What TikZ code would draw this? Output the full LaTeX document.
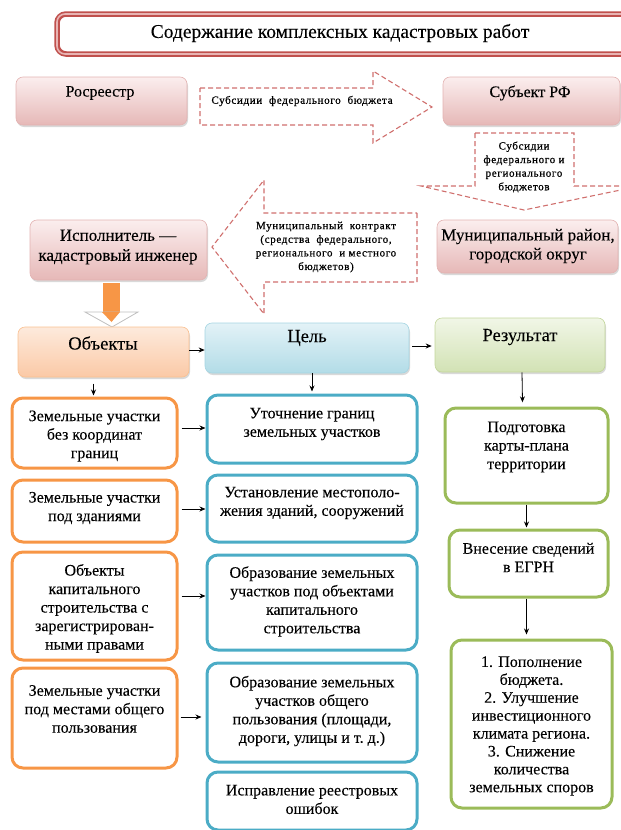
\documentclass[tikz,border=0pt]{standalone}
\usepackage{fontspec}
\setmainfont{Liberation Serif}
\newfontfamily\serif[FakeBold=0.1]{Liberation Serif}
\newfontfamily\smallfont[LetterSpace=6,FakeBold=0.6]{Liberation Serif}
\usetikzlibrary{shadows,calc,arrows.meta}
\definecolor{titlered}{HTML}{C0504D}
\definecolor{titlelight}{HTML}{E8B4B3}
\definecolor{pinktop}{HTML}{FBEEEE}
\definecolor{pinkbot}{HTML}{E6B8B7}
\definecolor{pinkline}{HTML}{E3B3B2}
\definecolor{dashred}{HTML}{D0706E}
\definecolor{orangeline}{HTML}{F79646}
\definecolor{orangetop}{HTML}{FDEADC}
\definecolor{orangebot}{HTML}{FBC9A6}
\definecolor{orangeedge}{HTML}{FAC090}
\definecolor{blueline}{HTML}{4BACC6}
\definecolor{bluetop}{HTML}{E3F2F7}
\definecolor{bluebot}{HTML}{B2DCE7}
\definecolor{blueedge}{HTML}{A5D5E2}
\definecolor{greenline}{HTML}{9BBB59}
\definecolor{greentop}{HTML}{F1F6E7}
\definecolor{greenbot}{HTML}{D2E2B4}
\definecolor{greenedge}{HTML}{C3D69B}
\tikzset{
  myshadow/.style={drop shadow={shadow xshift=1pt,shadow yshift=-2pt,opacity=0.25,fill=black!60}},
  hbox/.style={rounded corners=7pt, line width=0.6pt, myshadow},
  pinkbox/.style={hbox, draw=pinkline, top color=pinktop, bottom color=pinkbot},
  objbox/.style={hbox, draw=orangeedge, top color=orangetop, bottom color=orangebot},
  celbox/.style={hbox, draw=blueedge, top color=bluetop, bottom color=bluebot},
  resbox/.style={hbox, draw=greenedge, top color=greentop, bottom color=greenbot},
  obox/.style={rounded corners=11pt, line width=3pt, draw=orangeline, fill=white},
  bbox/.style={rounded corners=11pt, line width=3pt, draw=blueline, fill=white},
  gbox/.style={rounded corners=11pt, line width=3pt, draw=greenline, fill=white},
  dasharrow/.style={draw=dashred, line width=1.1pt, dash pattern=on 5pt off 3pt, fill=white},
  body/.style={align=center, inner sep=0pt, font=\serif\fontsize{16}{18.5}\selectfont},
  head/.style={align=center, inner sep=0pt, font=\serif\fontsize{18.5}{22}\selectfont},
  small/.style={align=center, inner sep=0pt, font=\smallfont\fontsize{11}{13.6}\selectfont},
  arr/.style={-{Stealth[length=6pt,width=5pt]}, line width=0.8pt},
}
\begin{document}
\begin{tikzpicture}[x=1pt,y=-1pt]
\useasboundingbox (0,0) rectangle (621,830);
\clip (0,0) rectangle (621,830);
% title
\draw[rounded corners=9pt, line width=5.5pt, draw=titlered, fill=white] (57,14) rectangle (632,54);
\draw[rounded corners=8pt, line width=1.6pt, draw=titlelight] (57,14) rectangle (632,54);
\node[head, font=\serif\fontsize{19.5}{22}\selectfont] (title) at (340,33) {Содержание комплексных кадастровых работ};
% dashed arrows
\draw[dasharrow] (200,88) -- (373,88) -- (373,71) -- (432,107) -- (373,143) -- (373,125) -- (200,125) -- cycle;
\node[small] (t1) at (302,101) {Субсидии \ федерального \ бюджета};
\draw[dasharrow] (475,133) -- (574,133) -- (574,186) -- (640,186) -- (524,210) -- (421,186) -- (475,186) -- cycle;
\node[small] (t2) at (524,167) {Субсидии\\федерального и\\регионального\\бюджетов};
\draw[dasharrow] (417,213) -- (417,282) -- (264,282) -- (264,314) -- (212,247) -- (264,180) -- (264,213) -- cycle;
\node[small] (t3) at (326,247) {Муниципальный \ контракт\\(средства \ федерального,\\регионального \ и местного\\бюджетов)};
% pink boxes
\node[pinkbox, minimum width=171, minimum height=48] (ros) at (101.5,101) {};
\node[body] (rost) at (100,93) {Росреестр};
\node[pinkbox, minimum width=177, minimum height=48] (sub) at (531.5,101) {};
\node[body] (subt) at (530,93) {Субъект РФ};
\node[pinkbox, minimum width=177, minimum height=60] (isp) at (118.5,250) {};
\node[body, font=\serif\fontsize{17}{20}\selectfont] (ispt) at (118,247) {Исполнитель —\\кадастровый инженер};
\node[pinkbox, minimum width=181, minimum height=53] (mun) at (527.5,246.5) {};
\node[body, font=\serif\fontsize{17}{19}\selectfont] (munt) at (528,246) {Муниципальный район,\\городской округ};
% orange block arrow
\fill[orangeline, draw=white, line width=1pt] (102,282) rectangle (120,313);
\draw[fill=white, draw=black!25, line width=0.8pt] (85,312) -- (138,312) -- (112,327) -- cycle;
\fill[orangeline] (102,312) -- (120,312) -- (111.5,322) -- cycle;
% header boxes
\node[objbox, minimum width=171, minimum height=50] (obj) at (103.5,352) {};
\node[head] (objt) at (103,343) {Объекты};
\node[celbox, minimum width=204, minimum height=50] (cel) at (307,348) {};
\node[head] (celt) at (307,338) {Цель};
\node[resbox, minimum width=170, minimum height=54] (res) at (520,345) {};
\node[head] (rest) at (520,337) {Результат};
% orange column
\node[obox, minimum width=165, minimum height=70] (o1) at (94.5,433) {};
\node[body] (o1t) at (94.5,436) {Земельные участки\\без координат\\границ};
\node[obox, minimum width=165, minimum height=62] (o2) at (94.5,511) {};
\node[body] (o2t) at (94.5,508) {Земельные участки\\под зданиями};
\node[obox, minimum width=165, minimum height=108] (o3) at (94.5,606) {};
\node[body] (o3t) at (94.5,608.5) {Объекты\\капитального\\строительства с\\зарегистрирован-\\ными правами};
\node[obox, minimum width=165, minimum height=100] (o4) at (94.5,718) {};
\node[body] (o4t) at (94.5,709) {Земельные участки\\под местами общего\\пользования};
% blue column
\node[bbox, minimum width=210, minimum height=68] (b1) at (312,429) {};
\node[body] (b1t) at (312,424) {Уточнение границ\\земельных участков};
\node[bbox, minimum width=210, minimum height=67] (b2) at (312,508.5) {};
\node[body] (b2t) at (312,503) {Установление местополо-\\жения зданий, сооружений};
\node[bbox, minimum width=210, minimum height=95] (b3) at (312,602.5) {};
\node[body] (b3t) at (312,601.5) {Образование земельных\\участков под объектами\\капитального\\строительства};
\node[bbox, minimum width=210, minimum height=99] (b4) at (312,712.5) {};
\node[body] (b4t) at (312,711) {Образование земельных\\участков общего\\пользования (площади,\\дороги, улицы и т.~д.)};
\node[bbox, minimum width=210, minimum height=58] (b5) at (312,801) {};
\node[body] (b5t) at (312,799.5) {Исправление реестровых\\ошибок};
% green column
\node[gbox, minimum width=163, minimum height=95] (g1) at (526.5,455.5) {};
\node[body] (g1t) at (526.5,447) {Подготовка\\карты-плана\\территории};
\node[gbox, minimum width=159, minimum height=67] (g2) at (528.5,563.5) {};
\node[body] (g2t) at (528.5,557.5) {Внесение сведений\\в ЕГРН};
\node[gbox, minimum width=161, minimum height=168] (g3) at (531.5,724) {};
\node[body, font=\serif\fontsize{16}{17.9}\selectfont] (g3t) at (531.5,726) {1. Пополнение\\бюджета.\\2. Улучшение\\инвестиционного\\климата региона.\\3. Снижение\\количества\\земельных споров};
% connectors
\draw[arr] (obj.east |- 0,350) -- (cel.west |- 0,350);
\draw[arr] ($(cel.east |- 0,346)+(3,0)$) -- ($(res.west |- 0,346)+(-3,0)$);
\draw[arr] ($(o1.north)+(-1,-13)$) -- ($(o1.north)+(-1,-1)$);
\draw[arr] (cel.south -| b1.north) -- ($(b1.north)+(0,-2)$);
\draw[arr] ($(res.south)+(2,0)$) -- ($(res.south -| g1.north)+(-4,30)$);
\draw[arr] (g1.south) -- ($(g2.north -| g1.south)+(0,-1)$);
\draw[arr] (g2.south -| g1.south) -- ($(g3.north -| g1.south)+(0,-4)$);
\draw[arr] ($(o1.east |- 0,428)+(3,0)$) -- (b1.west |- 0,428);
\draw[arr] ($(o2.east |- 0,509)+(3,0)$) -- (b2.west |- 0,509);
\draw[arr] ($(o3.east |- 0,596)+(3,0)$) -- (b3.west |- 0,596);
\draw[arr] ($(o4.east |- 0,717)+(2,0)$) -- ($(b4.west |- 0,717)+(-4,0)$);
\end{tikzpicture}
\end{document}
